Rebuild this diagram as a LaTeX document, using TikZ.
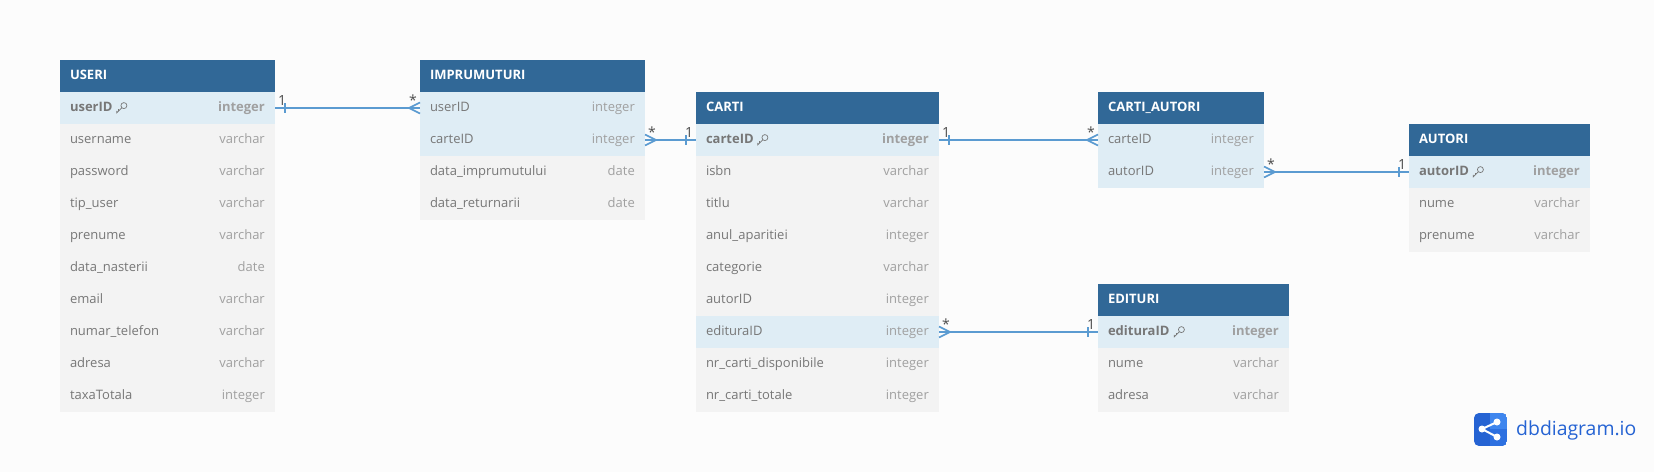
\documentclass[tikz,border=0pt]{standalone}
\usepackage{fontspec}
\setmainfont{Open Sans}
\usetikzlibrary{calc,positioning}
\definecolor{pagebg}{HTML}{FCFCFC}
\definecolor{headblue}{HTML}{316897}
\definecolor{rowgray}{HTML}{F3F3F3}
\definecolor{rowblue}{HTML}{DFEDF5}
\definecolor{namegray}{HTML}{777777}
\definecolor{typegray}{HTML}{A0A0A0}
\definecolor{relblue}{HTML}{5B9BD1}
\definecolor{logodark}{HTML}{2563D3}
\definecolor{logomid}{HTML}{2D70E0}
\definecolor{logolight}{HTML}{3F86EE}
\tikzset{
  base/.style = {rectangle, anchor=north west, outer sep=0pt, inner xsep=10pt, inner ysep=0pt,
    minimum height=32pt, align=left, text height=10pt, text depth=3pt},
  head/.style = {base, fill=headblue, text=white, font=\fontsize{13}{15}\selectfont\bfseries, text width=#1-20pt},
  row/.style = {base, fill=rowgray, text=namegray, font=\fontsize{13}{15}\selectfont, text width=#1-20pt},
  keyrow/.style = {row=#1, fill=rowblue},
  pk/.style = {font=\fontsize{13}{15}\selectfont\bfseries},
  type/.style = {anchor=east, inner xsep=10pt, inner ysep=0pt, text=typegray, font=\fontsize{13}{15}\selectfont, text height=10pt, text depth=3pt},
  rel/.style = {draw=relblue, line width=1.6pt},
  card/.style = {text=black!70, inner sep=0pt, font=\fontsize{14}{15}\selectfont},
  keyicon/.pic = {
    \draw [namegray, line width=0.7pt] (2.4,-2.4) circle [radius=3];
    \draw [namegray, line width=0.7pt] (0.3,-0.3) -- (-4.8,4.8) -- (-4.8,2.8);
    \draw [namegray, line width=0.7pt] (-3,3) -- (-3,1.2);
  },
  onetick/.pic = {\draw [rel] (0,-5) -- (0,5);},
  crowfoot/.pic = {\draw [rel] (0,-5.5) -- (-11,0) -- (0,5.5);}
}
\begin{document}
\begin{tikzpicture}[x=1pt, y=-1pt]
\useasboundingbox [fill=pagebg] (0,0) rectangle (1654,472);

% users
\node [head=215pt] (useri) at (60,60) {USERI};
\node [keyrow=215pt, below=0pt of useri, pk] (userid) {userID};
\node [row=215pt, below=0pt of userid] (username) {username};
\node [row=215pt, below=0pt of username] (password) {password};
\node [row=215pt, below=0pt of password] (tipuser) {tip\_user};
\node [row=215pt, below=0pt of tipuser] (prenume) {prenume};
\node [row=215pt, below=0pt of prenume] (datanasterii) {data\_nasterii};
\node [row=215pt, below=0pt of datanasterii] (email) {email};
\node [row=215pt, below=0pt of email] (telefon) {numar\_telefon};
\node [row=215pt, below=0pt of telefon] (adresa) {adresa};
\node [row=215pt, below=0pt of adresa] (taxa) {taxaTotala};
\node [type, pk] at (userid.east) {integer};
\node [type] at (username.east) {varchar};
\node [type] at (password.east) {varchar};
\node [type] at (tipuser.east) {varchar};
\node [type] at (prenume.east) {varchar};
\node [type] at (datanasterii.east) {date};
\node [type] at (email.east) {varchar};
\node [type] at (telefon.east) {varchar};
\node [type] at (adresa.east) {varchar};
\node [type] at (taxa.east) {integer};
\pic at ($(userid.west)+(61.5,0)$) {keyicon};

% loans
\node [head=225pt] (imprumuturi) at (420,60) {IMPRUMUTURI};
\node [keyrow=225pt, below=0pt of imprumuturi] (impuser) {userID};
\node [keyrow=225pt, below=0pt of impuser] (impcarte) {carteID};
\node [row=225pt, below=0pt of impcarte] (dataimp) {data\_imprumutului};
\node [row=225pt, below=0pt of dataimp] (dataret) {data\_returnarii};
\node [type] at (impuser.east) {integer};
\node [type] at (impcarte.east) {integer};
\node [type] at (dataimp.east) {date};
\node [type] at (dataret.east) {date};

% books
\node [head=243pt] (carti) at (696,92) {CARTI};
\node [keyrow=243pt, below=0pt of carti, pk] (carteid) {carteID};
\node [row=243pt, below=0pt of carteid] (isbn) {isbn};
\node [row=243pt, below=0pt of isbn] (titlu) {titlu};
\node [row=243pt, below=0pt of titlu] (anul) {anul\_aparitiei};
\node [row=243pt, below=0pt of anul] (categorie) {categorie};
\node [row=243pt, below=0pt of categorie] (cartiautor) {autorID};
\node [keyrow=243pt, below=0pt of cartiautor] (cartiedit) {edituraID};
\node [row=243pt, below=0pt of cartiedit] (disponibile) {nr\_carti\_disponibile};
\node [row=243pt, below=0pt of disponibile] (totale) {nr\_carti\_totale};
\node [type, pk] at (carteid.east) {integer};
\node [type] at (isbn.east) {varchar};
\node [type] at (titlu.east) {varchar};
\node [type] at (anul.east) {integer};
\node [type] at (categorie.east) {varchar};
\node [type] at (cartiautor.east) {integer};
\node [type] at (cartiedit.east) {integer};
\node [type] at (disponibile.east) {integer};
\node [type] at (totale.east) {integer};
\pic at ($(carteid.west)+(66.5,0)$) {keyicon};

% link table
\node [head=166pt] (cartiautori) at (1098,92) {CARTI\_AUTORI};
\node [keyrow=166pt, below=0pt of cartiautori] (cacarte) {carteID};
\node [keyrow=166pt, below=0pt of cacarte] (caautor) {autorID};
\node [type] at (cacarte.east) {integer};
\node [type] at (caautor.east) {integer};

% authors
\node [head=181pt] (autori) at (1409,124) {AUTORI};
\node [keyrow=181pt, below=0pt of autori, pk] (autorid) {autorID};
\node [row=181pt, below=0pt of autorid] (autnume) {nume};
\node [row=181pt, below=0pt of autnume] (autprenume) {prenume};
\node [type, pk] at (autorid.east) {integer};
\node [type] at (autnume.east) {varchar};
\node [type] at (autprenume.east) {varchar};
\pic at ($(autorid.west)+(69,0)$) {keyicon};

% publishers
\node [head=191pt] (edituri) at (1098,284) {EDITURI};
\node [keyrow=191pt, below=0pt of edituri, pk] (edituraid) {edituraID};
\node [row=191pt, below=0pt of edituraid] (editnume) {nume};
\node [row=191pt, below=0pt of editnume] (editadresa) {adresa};
\node [type, pk] at (edituraid.east) {integer};
\node [type] at (editnume.east) {varchar};
\node [type] at (editadresa.east) {varchar};
\pic at ($(edituraid.west)+(81,0)$) {keyicon};

% relations
\draw [rel] (userid.east) -- (impuser.west);
\pic at ($(userid.east)+(10,0)$) {onetick};
\pic at (impuser.west) {crowfoot};
\node [card] (one1) at ($(userid.east)+(7,-8)$) {1};
\node [card] (many1) at ($(impuser.west)+(-7,-8)$) {*};

\draw [rel] (impcarte.east) -- (carteid.west);
\pic [xscale=-1] at (impcarte.east) {crowfoot};
\pic at ($(carteid.west)+(-10,0)$) {onetick};
\node [card] (many2) at ($(impcarte.east)+(7,-8)$) {*};
\node [card] (one2) at ($(carteid.west)+(-7,-8)$) {1};

\draw [rel] (carteid.east) -- (cacarte.west);
\pic at ($(carteid.east)+(10,0)$) {onetick};
\pic at (cacarte.west) {crowfoot};
\node [card] (one3) at ($(carteid.east)+(7,-8)$) {1};
\node [card] (many3) at ($(cacarte.west)+(-7,-8)$) {*};

\draw [rel] (caautor.east) -- (autorid.west);
\pic [xscale=-1] at (caautor.east) {crowfoot};
\pic at ($(autorid.west)+(-10,0)$) {onetick};
\node [card] (many4) at ($(caautor.east)+(7,-8)$) {*};
\node [card] (one4) at ($(autorid.west)+(-7,-8)$) {1};

\draw [rel] (cartiedit.east) -- (edituraid.west);
\pic [xscale=-1] at (cartiedit.east) {crowfoot};
\pic at ($(edituraid.west)+(-10,0)$) {onetick};
\node [card] (many5) at ($(cartiedit.east)+(7,-8)$) {*};
\node [card] (one5) at ($(edituraid.west)+(-7,-8)$) {1};

% logo
\begin{scope}
\clip [rounded corners=5pt] (1474,413) rectangle (1507,446);
\fill [logodark] (1474,413) rectangle (1507,446);
\fill [logomid] (1490,429) rectangle (1507,446);
\fill [logolight] (1490,413) rectangle (1507,429);
\end{scope}
\draw [white, line width=2pt] (1482,429) -- (1497,422);
\draw [white, line width=2pt] (1482,429) -- (1497,437);
\fill [white] (1482,429) circle [radius=3.5];
\fill [white] (1497,422) circle [radius=3.5];
\fill [white] (1497,437) circle [radius=3.5];
\node [anchor=west, inner sep=0pt, text=logodark, font=\fontsize{19.4}{22}\selectfont] (logotext) at (1516,430) {dbdiagram.io};
\end{tikzpicture}
\end{document}
